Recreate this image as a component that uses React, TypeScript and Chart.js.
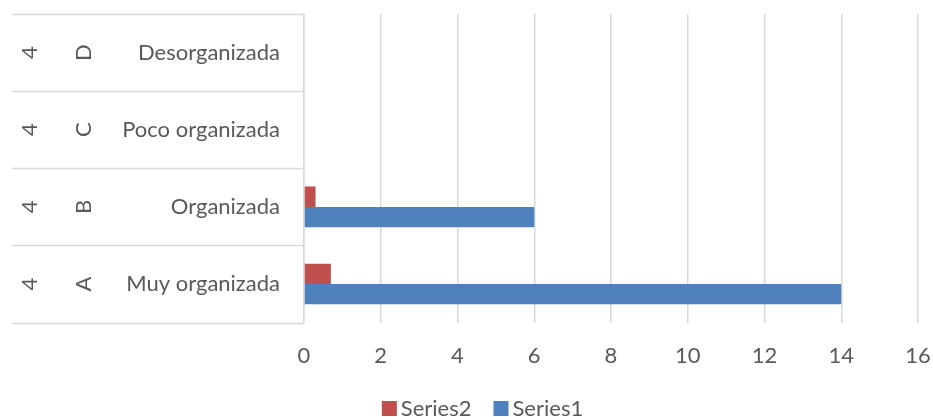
import React, { useEffect, useRef } from "react";
import { Chart, registerables } from "chart.js";

Chart.register(...registerables);

// ---- data ----
const categories = ["Muy organizada", "Organizada", "Poco organizada", "Desorganizada"];
const level2Labels = ["A", "B", "C", "D"];
const level1Labels = ["4", "4", "4", "4"];
const series1Values = [14, 6, 0, 0];
const series2Values = [0.7, 0.3, 0, 0];
const xMin = 0;
const xMax = 16;
const xStep = 2;

const FONT = "Lato";
const FS = 22;
const TEXT = "#595959";
const GRID = "#d9d9d9";
const RED = "#C0504D";
const BLUE = "#4F81BD";

const sidePlugin = {
  id: "sideLabels",
  afterDraw(chart: any) {
    const ctx = chart.ctx;
    const y = chart.scales.y;
    const area = chart.chartArea;
    ctx.save();
    // separator lines of the multi-level category table
    ctx.strokeStyle = GRID;
    ctx.lineWidth = 1.5;
    for (let i = 0; i <= categories.length; i++) {
      const py = Math.round(y.getPixelForValue(i - 0.5)) + 0.5;
      ctx.beginPath();
      ctx.moveTo(12, py);
      ctx.lineTo(area.left, py);
      ctx.stroke();
    }
    // rotated outer levels
    ctx.fillStyle = TEXT;
    ctx.font = `${FS}px ${FONT}`;
    ctx.textAlign = "center";
    ctx.textBaseline = "middle";
    const drawRot = (t: string, x: number, py: number) => {
      ctx.save();
      ctx.translate(x, py);
      ctx.rotate(-Math.PI / 2);
      ctx.fillText(t, 0, 0);
      ctx.restore();
    };
    categories.forEach((_, i) => {
      const py = y.getPixelForValue(i);
      drawRot(level1Labels[i], 30, py);
      drawRot(level2Labels[i], 84, py);
    });
    // legend
    const items = chart.data.datasets.map((d: any) => ({ label: d.label, color: d.backgroundColor }));
    const box = 15;
    const gapBoxText = 4;
    const gapItems = 22;
    const widths = items.map((it: any) => box + gapBoxText + ctx.measureText(it.label).width);
    const total = widths.reduce((a: number, b: number) => a + b, 0) + gapItems * (items.length - 1);
    let x = chart.width / 2 + 16 - total / 2;
    const cy = 408.5;
    ctx.textAlign = "left";
    items.forEach((it: any, i: number) => {
      ctx.fillStyle = it.color;
      ctx.fillRect(x, cy - box / 2, box, box);
      ctx.fillStyle = TEXT;
      ctx.fillText(it.label, x + box + gapBoxText, cy);
      x += widths[i] + gapItems;
    });
    ctx.restore();
  },
};

export default function App() {
  const ref = useRef<HTMLCanvasElement | null>(null);
  useEffect(() => {
    if (!ref.current) return;
    const chart = new Chart(ref.current, {
      type: "bar",
      data: {
        labels: categories,
        datasets: [
          {
            label: "Series2",
            data: series2Values,
            backgroundColor: RED,
            borderWidth: 0,
            categoryPercentage: 0.527,
            barPercentage: 1,
          },
          {
            label: "Series1",
            data: series1Values,
            backgroundColor: BLUE,
            borderWidth: 0,
            categoryPercentage: 0.527,
            barPercentage: 1,
          },
        ],
      },
      options: {
        indexAxis: "y",
        animation: false,
        responsive: false,
        layout: { padding: { left: 32, right: 15, top: 14, bottom: 28 } },
        plugins: { legend: { display: false }, tooltip: { enabled: false } },
        scales: {
          x: {
            min: xMin,
            max: xMax,
            ticks: {
              stepSize: xStep,
              color: TEXT,
              font: { family: FONT, size: FS },
              padding: 20,
            },
            grid: { color: GRID, lineWidth: 1.5, drawTicks: false },
            border: { display: false },
            afterFit: (s: any) => {
              s.paddingLeft = 0;
              s.paddingRight = 0;
            },
          },
          y: {
            reverse: true,
            ticks: {
              color: TEXT,
              font: { family: FONT, size: FS },
              padding: 24,
            },
            grid: { display: false, drawTicks: false },
            border: { display: true, color: GRID, width: 1.5 },
            afterFit: (s: any) => {
              s.width = 272;
              s.paddingTop = 0;
              s.paddingBottom = 0;
            },
          },
        },
      },
      plugins: [sidePlugin],
    });
    return () => chart.destroy();
  }, []);
  return (
    <div style={{ position: "fixed", left: 0, top: 0, width: 933, height: 417, background: "#fff" }}>
      <canvas ref={ref} width={933} height={417} />
    </div>
  );
}
